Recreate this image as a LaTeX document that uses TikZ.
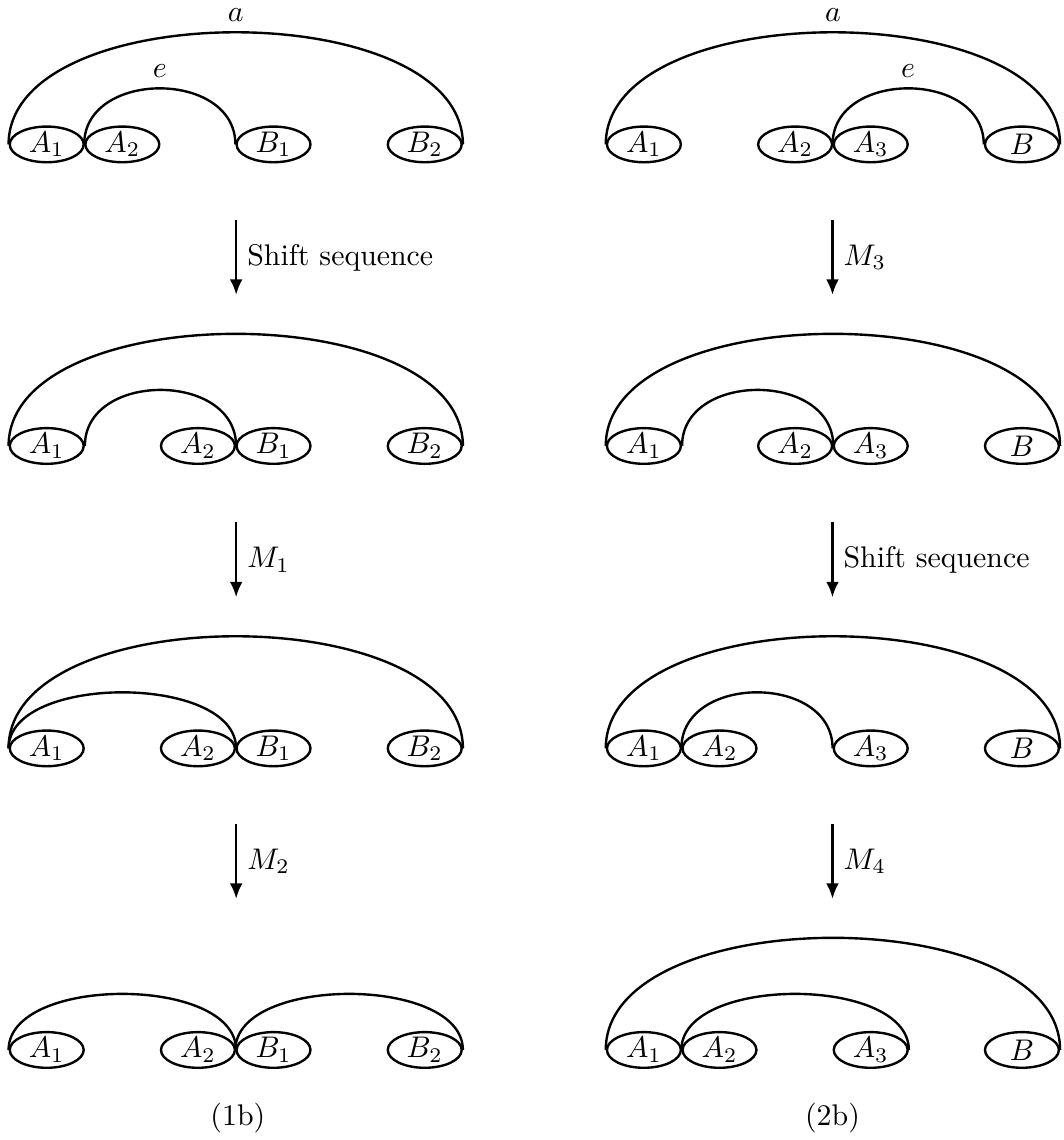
\documentclass[tikz,border=0pt]{standalone}
\usepackage{amsmath}
\usetikzlibrary{arrows.meta,shapes.geometric}
\tikzset{
  blob/.style={ellipse,draw=black,line width=.8pt,minimum width=8.7mm,minimum height=4.2mm,inner sep=0pt},
  hi/.style={out=90,in=90,distance=17.6mm},
  lo/.style={out=90,in=90,distance=8.8mm},
  ar/.style={-{Latex[length=1.8mm,width=1.5mm]},line width=.8pt},
  lbl/.style={align=left},
}
\begin{document}
\begin{tikzpicture}[x=1mm,y=1mm,line width=.8pt]
  \useasboundingbox (0,0) rectangle (125.2,134.2);
  % left column (1b)
  \node[blob] (l1a1) at (5.5,117.2) {$A_1$};
  \node[blob] (l1a2) at (14.4,117.2) {$A_2$};
  \node[blob] (l1b1) at (32.2,117.2) {$B_1$};
  \node[blob] (l1b2) at (50.0,117.2) {$B_2$};
  \draw (l1a1.west) to[hi] node[midway,above]{$a$} (l1b2.east);
  \draw (l1a2.west) to[lo] node[midway,above]{$e$} (l1b1.west);

  \node[blob] (l2a1) at (5.5,81.7) {$A_1$};
  \node[blob] (l2a2) at (23.3,81.7) {$A_2$};
  \node[blob] (l2b1) at (32.2,81.7) {$B_1$};
  \node[blob] (l2b2) at (50.0,81.7) {$B_2$};
  \draw (l2a1.west) to[hi] (l2b2.east);
  \draw (l2a1.east) to[lo] (l2a2.east);

  \node[blob] (l3a1) at (5.5,46.1) {$A_1$};
  \node[blob] (l3a2) at (23.3,46.1) {$A_2$};
  \node[blob] (l3b1) at (32.2,46.1) {$B_1$};
  \node[blob] (l3b2) at (50.0,46.1) {$B_2$};
  \draw (l3a1.west) to[hi] (l3b2.east);
  \draw (l3a1.west) to[lo] (l3a2.east);

  \node[blob] (l4a1) at (5.5,10.6) {$A_1$};
  \node[blob] (l4a2) at (23.3,10.6) {$A_2$};
  \node[blob] (l4b1) at (32.2,10.6) {$B_1$};
  \node[blob] (l4b2) at (50.0,10.6) {$B_2$};
  \draw (l4a1.west) to[lo] (l4a2.east);
  \draw (l4b1.west) to[lo] (l4b2.east);

  \coordinate (l1s) at (27.8,108.3); \coordinate (l1t) at (27.8,99.5);
  \coordinate (l2s) at (27.8,72.7);  \coordinate (l2t) at (27.8,63.9);
  \coordinate (l3s) at (27.8,37.2);  \coordinate (l3t) at (27.8,28.4);
  \draw[ar] (l1s) -- node[lbl,right]{Shift sequence} (l1t);
  \draw[ar] (l2s) -- node[lbl,right]{$M_1$} (l2t);
  \draw[ar] (l3s) -- node[lbl,right]{$M_2$} (l3t);
  \node (capl) at (28.0,2.6) {(1b)};

  % right column (2b)
  \node[blob] (r1a1) at (75.8,117.2) {$A_1$};
  \node[blob] (r1a2) at (93.6,117.2) {$A_2$};
  \node[blob] (r1a3) at (102.5,117.2) {$A_3$};
  \node[blob] (r1b) at (120.3,117.2) {$B$};
  \draw (r1a1.west) to[hi] node[midway,above]{$a$} (r1b.east);
  \draw (r1a3.west) to[lo] node[midway,above]{$e$} (r1b.west);

  \node[blob] (r2a1) at (75.8,81.7) {$A_1$};
  \node[blob] (r2a2) at (93.6,81.7) {$A_2$};
  \node[blob] (r2a3) at (102.5,81.7) {$A_3$};
  \node[blob] (r2b) at (120.3,81.7) {$B$};
  \draw (r2a1.west) to[hi] (r2b.east);
  \draw (r2a1.east) to[lo] (r2a2.east);

  \node[blob] (r3a1) at (75.8,46.1) {$A_1$};
  \node[blob] (r3a2) at (84.7,46.1) {$A_2$};
  \node[blob] (r3a3) at (102.5,46.1) {$A_3$};
  \node[blob] (r3b) at (120.3,46.1) {$B$};
  \draw (r3a1.west) to[hi] (r3b.east);
  \draw (r3a2.west) to[lo] (r3a3.west);

  \node[blob] (r4a1) at (75.8,10.6) {$A_1$};
  \node[blob] (r4a2) at (84.7,10.6) {$A_2$};
  \node[blob] (r4a3) at (102.5,10.6) {$A_3$};
  \node[blob] (r4b) at (120.3,10.6) {$B$};
  \draw (r4a1.west) to[hi] (r4b.east);
  \draw (r4a2.west) to[lo] (r4a3.east);

  \coordinate (r1s) at (98.0,108.3); \coordinate (r1t) at (98.0,99.5);
  \coordinate (r2s) at (98.0,72.7);  \coordinate (r2t) at (98.0,63.9);
  \coordinate (r3s) at (98.0,37.2);  \coordinate (r3t) at (98.0,28.4);
  \draw[ar] (r1s) -- node[lbl,right]{$M_3$} (r1t);
  \draw[ar] (r2s) -- node[lbl,right]{Shift sequence} (r2t);
  \draw[ar] (r3s) -- node[lbl,right]{$M_4$} (r3t);
  \node (capr) at (98.0,2.6) {(2b)};
\end{tikzpicture}
\end{document}
